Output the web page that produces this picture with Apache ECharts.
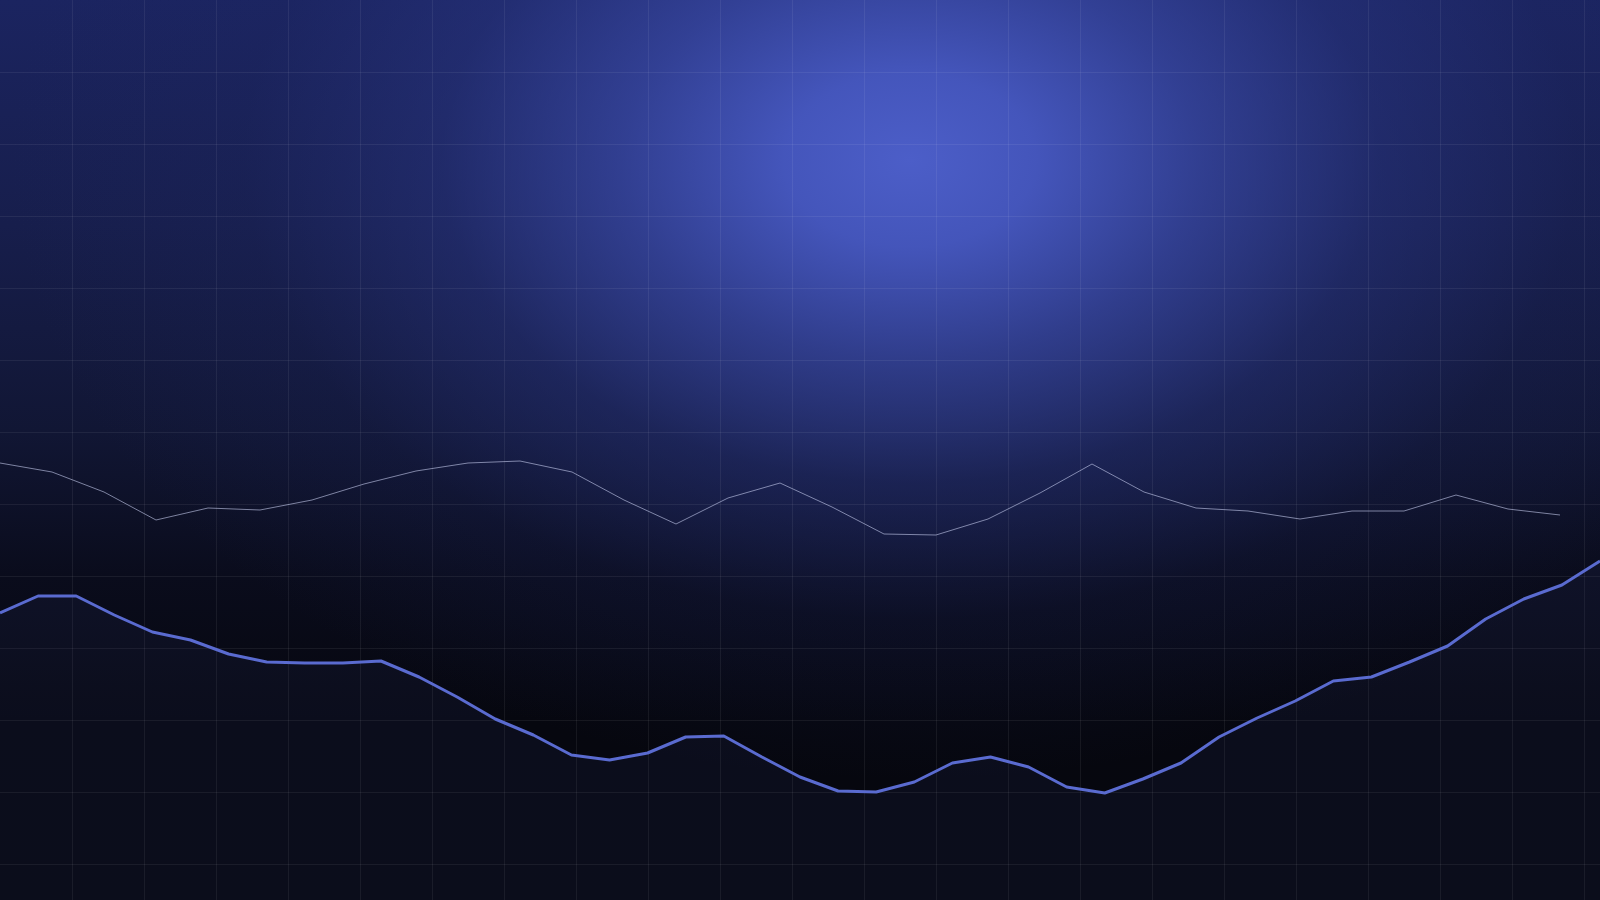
<!DOCTYPE html>
<html>
<head>
<meta charset="utf-8">
<script src="https://cdn.jsdelivr.net/npm/echarts@6/dist/echarts.min.js"></script>
<style>
  html, body { margin: 0; padding: 0; width: 1600px; height: 900px; overflow: hidden; }
  body {
    background:
      radial-gradient(ellipse 900px 620px at 910px 160px,
        rgba(76,94,200,1) 0%,
        rgba(72,90,196,0.92) 14%,
        rgba(60,76,172,0.7) 32%,
        rgba(44,57,138,0.42) 52%,
        rgba(32,42,106,0.16) 74%,
        rgba(30,40,100,0) 100%),
      linear-gradient(to bottom, #1b2460 0%, #171e4c 25%, #111634 48%, #0a0c1c 64%, #06070f 80%, #06070e 100%);
  }
  #chart { width: 1600px; height: 900px; }
</style>
</head>
<body>
<div id="chart"></div>
<script>
// Upper thin line (31 points)
const grayCategories = Array.from({length: 31}, (_, i) => String(i + 1));
const grayValues = [437, 428, 408, 380, 392, 390, 400, 416, 429, 437, 439, 428, 400, 376, 402, 417,
                    393, 366, 365, 381, 407, 436, 408, 392, 389, 381, 389, 389, 405, 391, 385];

// Lower thick line with area (43 points)
const blueCategories = Array.from({length: 43}, (_, i) => String(i + 1));
const blueValues = [287, 304, 304, 285, 268, 260, 246, 238, 237, 237, 239, 223, 203, 181, 165, 145,
                    140, 147, 163, 164, 143, 123, 109, 108, 118, 137, 143, 133, 113, 107, 121, 137,
                    163, 182, 199, 219, 223, 238, 254, 281, 301, 315, 339];

const chart = echarts.init(document.getElementById('chart'), null, { renderer: 'canvas' });

const gridLine = { show: true, showMinLine: false, showMaxLine: false,
                   lineStyle: { color: 'rgba(255,255,255,0.065)', width: 1 } };

chart.setOption({
  backgroundColor: 'transparent',
  animation: false,
  grid: [
    { left: 0, right: 0, top: 0, bottom: 0 },   // background grid lines
    { left: 0, right: 0, top: 0, bottom: 0 },   // blue line
    { left: 0, right: 40, top: 0, bottom: 0 }   // gray line
  ],
  xAxis: [
    { gridIndex: 0, type: 'value', min: 0, max: 1600, interval: 72, show: true,
      axisLine: { show: false }, axisTick: { show: false }, axisLabel: { show: false },
      splitLine: gridLine },
    { gridIndex: 1, type: 'category', data: blueCategories, boundaryGap: false, show: false },
    { gridIndex: 2, type: 'category', data: grayCategories, boundaryGap: false, show: false }
  ],
  yAxis: [
    { gridIndex: 0, type: 'value', min: 0, max: 900, interval: 72, inverse: true, show: true,
      axisLine: { show: false }, axisTick: { show: false }, axisLabel: { show: false },
      splitLine: gridLine },
    { gridIndex: 1, type: 'value', min: 0, max: 900, show: false },
    { gridIndex: 2, type: 'value', min: 0, max: 900, show: false }
  ],
  series: [
    {
      type: 'line', xAxisIndex: 2, yAxisIndex: 2, data: grayValues,
      symbol: 'none', smooth: false,
      lineStyle: { color: 'rgba(200,206,240,0.6)', width: 1 }
    },
    {
      type: 'line', xAxisIndex: 1, yAxisIndex: 1, data: blueValues,
      symbol: 'none', smooth: false,
      lineStyle: { color: '#5a6bd0', width: 3 },
      areaStyle: { color: 'rgba(90,110,230,0.09)' }
    }
  ]
});
</script>
</body>
</html>
